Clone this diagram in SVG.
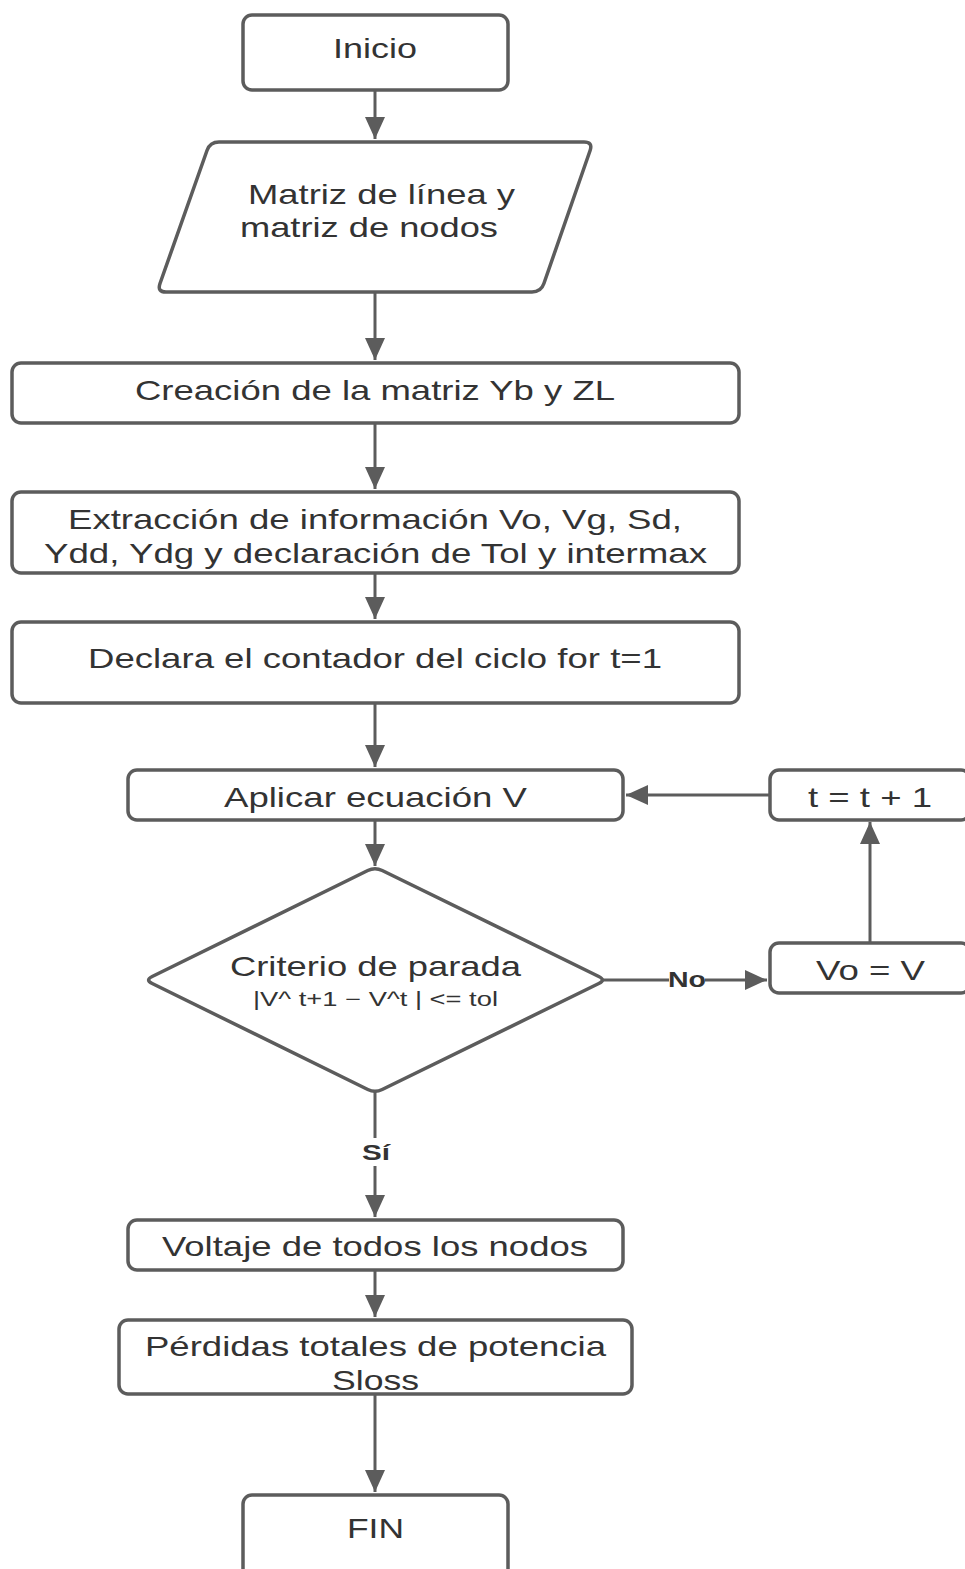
<svg xmlns="http://www.w3.org/2000/svg" width="965" height="1569" viewBox="0 0 965 1569">
  <style>
    .shape { fill: #ffffff; stroke: #5c5c5c; stroke-width: 3.5; stroke-linejoin: round; }
    .edge { fill: none; stroke: #5c5c5c; stroke-width: 3; }
    .lbl { font-family: "Liberation Sans", Arial, sans-serif; font-size: 28px; fill: #333333; text-anchor: middle; }
    .small { font-size: 20px; }
    .tag { font-family: "Liberation Sans", Arial, sans-serif; font-size: 22px; font-weight: bold; fill: #333333; text-anchor: middle; }
  </style>
  <defs>
    <marker id="arrow" markerUnits="userSpaceOnUse" markerWidth="24" markerHeight="22" refX="22" refY="10" orient="auto">
      <path d="M0,0 L22,10 L0,20 Z" fill="#5c5c5c"/>
    </marker>
  </defs>
  <rect width="965" height="1569" fill="#ffffff"/>

  <!-- connectors -->
  <g id="connectors">
    <line class="edge" x1="375" y1="90" x2="375" y2="139" marker-end="url(#arrow)"/>
    <line class="edge" x1="375" y1="292" x2="375" y2="360" marker-end="url(#arrow)"/>
    <line class="edge" x1="375" y1="423" x2="375" y2="489" marker-end="url(#arrow)"/>
    <line class="edge" x1="375" y1="573" x2="375" y2="619" marker-end="url(#arrow)"/>
    <line class="edge" x1="375" y1="703" x2="375" y2="767" marker-end="url(#arrow)"/>
    <line class="edge" x1="375" y1="820" x2="375" y2="866" marker-end="url(#arrow)"/>
    <!-- Sí branch -->
    <line class="edge" x1="375" y1="1092" x2="375" y2="1138"/>
    <line class="edge" x1="375" y1="1166" x2="375" y2="1217" marker-end="url(#arrow)"/>
    <text class="tag" x="376" y="1160" textLength="28" lengthAdjust="spacingAndGlyphs">Sí</text>
    <line class="edge" x1="375" y1="1270" x2="375" y2="1317" marker-end="url(#arrow)"/>
    <line class="edge" x1="375" y1="1394" x2="375" y2="1492" marker-end="url(#arrow)"/>
    <!-- No branch -->
    <line class="edge" x1="603" y1="980" x2="669" y2="980"/>
    <line class="edge" x1="705" y1="980" x2="767" y2="980" marker-end="url(#arrow)"/>
    <text class="tag" x="687" y="987" textLength="38" lengthAdjust="spacingAndGlyphs">No</text>
    <!-- loop back -->
    <line class="edge" x1="870" y1="943" x2="870" y2="822" marker-end="url(#arrow)"/>
    <line class="edge" x1="770" y1="795" x2="626" y2="795" marker-end="url(#arrow)"/>
  </g>

  <g id="inicio">
    <rect class="shape" x="243" y="15" width="265" height="75" rx="9"/>
    <text class="lbl" x="375" y="58" textLength="84" lengthAdjust="spacingAndGlyphs">Inicio</text>
  </g>

  <g id="entrada">
    <path class="shape" d="M219,142 L584,142 Q593,142 590.1,150.5 L543.9,283.5 Q541,292 532,292 L166,292 Q157,292 160,283.5 L207,150.5 Q210,142 219,142 Z"/>
    <text class="lbl" x="381.5" y="204" textLength="267" lengthAdjust="spacingAndGlyphs">Matriz de línea y</text>
    <text class="lbl" x="369" y="237" textLength="258" lengthAdjust="spacingAndGlyphs">matriz de nodos</text>
  </g>

  <g id="creacion">
    <rect class="shape" x="12" y="363" width="727" height="60" rx="9"/>
    <text class="lbl" x="375" y="400" textLength="480" lengthAdjust="spacingAndGlyphs">Creación de la matriz Yb y ZL</text>
  </g>

  <g id="extraccion">
    <rect class="shape" x="12" y="492" width="727" height="81" rx="9"/>
    <text class="lbl" x="375" y="529" textLength="614" lengthAdjust="spacingAndGlyphs">Extracción de información Vo, Vg, Sd,</text>
    <text class="lbl" x="375.5" y="563" textLength="663" lengthAdjust="spacingAndGlyphs">Ydd, Ydg y declaración de Tol y intermax</text>
  </g>

  <g id="contador">
    <rect class="shape" x="12" y="622" width="727" height="81" rx="9"/>
    <text class="lbl" x="375" y="668" textLength="574" lengthAdjust="spacingAndGlyphs">Declara el contador del ciclo for t=1</text>
  </g>

  <g id="aplicar">
    <rect class="shape" x="128" y="770" width="495" height="50" rx="9"/>
    <text class="lbl" x="375.5" y="807" textLength="303" lengthAdjust="spacingAndGlyphs">Aplicar ecuación V</text>
  </g>

  <g id="incremento">
    <rect class="shape" x="770" y="770" width="200" height="50" rx="9"/>
    <text class="lbl" x="870" y="807" textLength="124" lengthAdjust="spacingAndGlyphs">t = t + 1</text>
  </g>

  <g id="criterio">
    <path class="shape" d="M382.2,870.5 L598.8,976.5 Q606,980 598.8,983.5 L382.2,1089.5 Q375,1093 367.8,1089.5 L152.2,983.5 Q145,980 152.2,976.5 L367.8,870.5 Q375,867 382.2,870.5 Z"/>
    <text class="lbl" x="375.5" y="976" textLength="291" lengthAdjust="spacingAndGlyphs">Criterio de parada</text>
    <text class="lbl small" x="375.5" y="1006" textLength="245" lengthAdjust="spacingAndGlyphs">|V^ t+1 − V^t | &lt;= tol</text>
  </g>

  <g id="actualiza">
    <rect class="shape" x="770" y="943" width="200" height="50" rx="9"/>
    <text class="lbl" x="870.5" y="980" textLength="109" lengthAdjust="spacingAndGlyphs">Vo = V</text>
  </g>

  <g id="voltaje">
    <rect class="shape" x="128" y="1220" width="495" height="50" rx="9"/>
    <text class="lbl" x="375" y="1256" textLength="426" lengthAdjust="spacingAndGlyphs">Voltaje de todos los nodos</text>
  </g>

  <g id="perdidas">
    <rect class="shape" x="119" y="1320" width="513" height="74" rx="9"/>
    <text class="lbl" x="375.5" y="1356" textLength="461" lengthAdjust="spacingAndGlyphs">Pérdidas totales de potencia</text>
    <text class="lbl" x="375.5" y="1390" textLength="87" lengthAdjust="spacingAndGlyphs">Sloss</text>
  </g>

  <g id="fin">
    <rect class="shape" x="243" y="1495" width="265" height="85" rx="9"/>
    <text class="lbl" x="375.5" y="1538" textLength="57" lengthAdjust="spacingAndGlyphs">FIN</text>
  </g>
</svg>
